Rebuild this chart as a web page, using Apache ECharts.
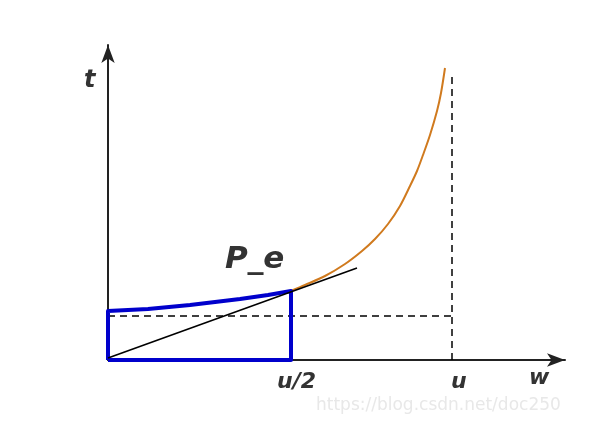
<!DOCTYPE html>
<html><head><meta charset="utf-8">
<script src="https://cdn.jsdelivr.net/npm/echarts@6/dist/echarts.min.js"></script>
<style>html,body{margin:0;padding:0;background:#fff}#c{width:609px;height:426px}</style>
</head><body><div id="c"></div>
<script>
// data in chart units (origin at axes intersection)
const blueW = [0, 40, 82, 132, 160, 183];
const blueT = [49, 51, 55, 61, 65, 69];
const orangeW = [183, 197, 217, 237, 254, 267, 280, 292, 302, 309, 315, 322, 329, 333, 337];
const orangeT = [69, 75, 84, 96, 109, 121, 136, 154, 174, 189, 205, 225, 249, 267, 292];
const tangentW = [0, 249];
const tangentT = [2, 92];
const halfU = 183, U = 344, dashLevel = 44, dashTop = 287;
const labels = ['t', 'w', 'u/2', 'u', 'P_e'];

const zip = (a, b) => a.map((v, i) => [v, b[i]]);
const outline = [[0, 0]].concat(zip(blueW, blueT), [[halfU, 0], [0, 0]]);

const chart = echarts.init(document.getElementById('c'));
const font = '"DejaVu Sans", sans-serif';
chart.setOption({
  animation: false,
  grid: {left: 108, top: 45, right: 44, bottom: 66},
  xAxis: {type: 'value', min: 0, max: 457, splitLine: {show: false}, axisTick: {show: false}, axisLabel: {show: false},
    axisLine: {onZero: false, symbol: ['none', 'arrow'], symbolSize: [10, 18], lineStyle: {color: '#222', width: 2}}},
  yAxis: {type: 'value', min: 0, max: 315, splitLine: {show: false}, axisTick: {show: false}, axisLabel: {show: false},
    axisLine: {onZero: false, symbol: ['none', 'arrow'], symbolSize: [10, 18], lineStyle: {color: '#222', width: 2}}},
  series: [
    {type: 'line', data: [[0, dashLevel], [U, dashLevel]], symbol: 'none', lineStyle: {color: '#000', width: 1.5, type: [7, 5]}},
    {type: 'line', data: [[U, 0], [U, dashTop]], symbol: 'none', lineStyle: {color: '#000', width: 1.5, type: [7, 5]}},
    {type: 'line', data: zip(orangeW, orangeT), smooth: 0.3, symbol: 'none', lineStyle: {color: '#d07a1e', width: 2}},
    {type: 'line', data: outline, smooth: false, symbol: 'none', lineStyle: {color: '#0000cc', width: 4, join: 'round'}},
    {type: 'line', data: zip(tangentW, tangentT), symbol: 'none', lineStyle: {color: '#000', width: 1.6}}
  ],
  graphic: [
    {type: 'text', left: 84, top: 69, style: {text: labels[0], font: 'italic bold 24px ' + font, fill: '#333'}},
    {type: 'text', left: 529, top: 367, style: {text: labels[1], font: 'italic bold 22px ' + font, fill: '#333'}},
    {type: 'text', left: 277, top: 371, style: {text: labels[2], font: 'italic bold 22px ' + font, fill: '#333'}},
    {type: 'text', left: 451, top: 371, style: {text: labels[3], font: 'italic bold 22px ' + font, fill: '#333'}},
    {type: 'text', left: 225, top: 244, style: {text: labels[4], font: 'italic bold 31px ' + font, fill: '#333'}},
    {type: 'text', left: 316, top: 397, style: {text: 'https://blog.csdn.net/doc250', font: '17px ' + font, fill: '#e8e8e8'}}
  ]
});
</script></body></html>
